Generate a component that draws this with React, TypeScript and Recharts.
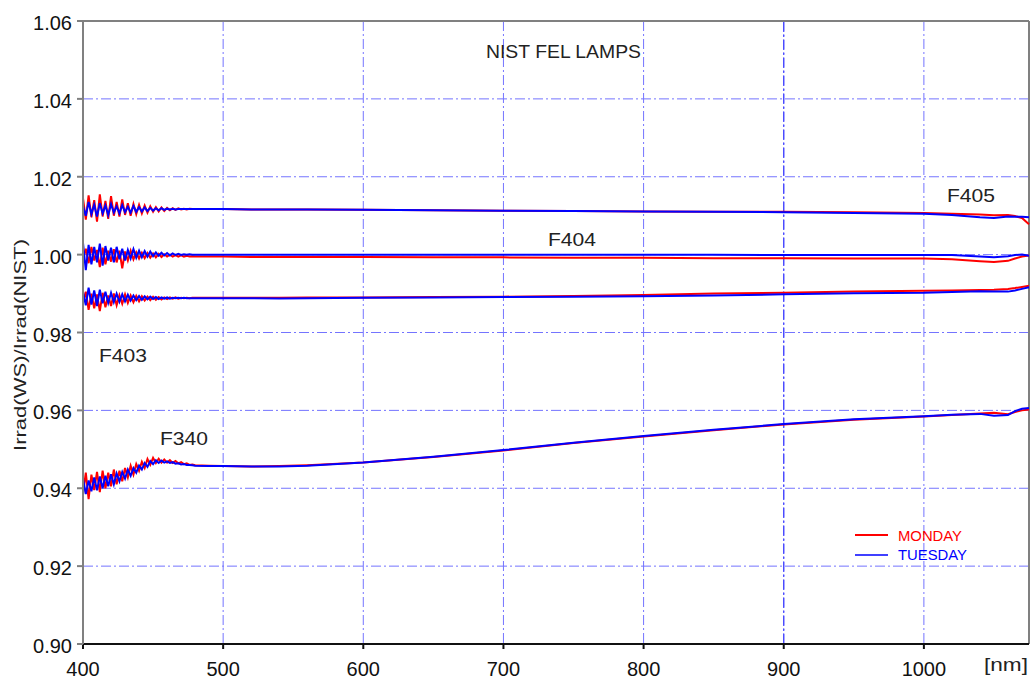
import { LineChart, Line, XAxis, YAxis, CartesianGrid, ReferenceLine } from "recharts";

const WAVELENGTH = [
  400, 402, 404, 406, 408, 410, 412, 414, 416, 418, 420, 422, 424, 426, 428, 430, 432, 434, 436, 438, 440,
  442, 444, 446, 448, 450, 452, 454, 456, 458, 460, 462, 464, 466, 468, 470, 472, 474, 476, 478, 480,
  490, 500, 520, 540, 560, 600, 650, 700, 750, 800, 850, 900, 950, 1000, 1020, 1040, 1050, 1060, 1065, 1070, 1075,
];

const F405_MON = [
  1.0145, 1.009, 1.0152, 1.0096, 1.014, 1.0085, 1.0155, 1.0098, 1.0138, 1.0092, 1.015, 1.01, 1.0135, 1.0098, 1.0142, 1.0102, 1.0132, 1.01, 1.013, 1.0104, 1.0128,
  1.0106, 1.0126, 1.0108, 1.0124, 1.011, 1.0122, 1.0111, 1.0121, 1.0112, 1.012, 1.0114, 1.0119, 1.0115, 1.0119, 1.0116, 1.0118, 1.0116, 1.0118, 1.0117, 1.0117,
  1.0117, 1.0117, 1.0116, 1.0116, 1.0116, 1.0115, 1.0114, 1.0113, 1.0112, 1.0111, 1.011, 1.011, 1.0109, 1.0107, 1.0105, 1.0103, 1.0101, 1.0102, 1.0099, 1.0094, 1.0078,
];
const F405_TUE = [
  1.0125, 1.01, 1.0135, 1.0104, 1.0128, 1.0098, 1.0132, 1.0106, 1.0126, 1.0102, 1.013, 1.0108, 1.0124, 1.0106, 1.0127, 1.0109, 1.0123, 1.0108, 1.0125, 1.011, 1.0122,
  1.0111, 1.0121, 1.0112, 1.012, 1.0113, 1.0119, 1.0114, 1.0119, 1.0115, 1.0118, 1.0116, 1.0118, 1.0116, 1.0117, 1.0117, 1.0117, 1.0117, 1.0117, 1.0117, 1.0117,
  1.0117, 1.0117, 1.0116, 1.0116, 1.0116, 1.0115, 1.0114, 1.0113, 1.0112, 1.0111, 1.011, 1.0109, 1.0107, 1.0105, 1.0102, 1.0096, 1.0094, 1.0098, 1.0097, 1.0097, 1.0096,
];
const F404_MON = [
  0.999, 1.0015, 0.9978, 1.002, 0.9985, 1.0012, 0.9968, 1.0018, 0.9975, 1.001, 0.9982, 1.0014, 0.998, 1.001, 0.9965, 1.0008, 0.9985, 1.001, 0.9988, 1.0006, 0.999,
  1.0005, 0.9991, 1.0004, 0.9992, 1.0003, 0.9993, 1.0002, 0.9994, 1.0001, 0.9995, 1.0, 0.9995, 0.9999, 0.9995, 0.9998, 0.9995, 0.9997, 0.9995, 0.9996, 0.9995,
  0.9995, 0.9995, 0.9994, 0.9994, 0.9994, 0.9994, 0.9993, 0.9993, 0.9992, 0.9992, 0.9991, 0.9991, 0.999, 0.999, 0.9988, 0.9983, 0.9981, 0.9984, 0.999, 0.9995, 0.9998,
];
const F404_TUE = [
  1.003, 0.996, 1.0025, 0.9975, 1.002, 0.998, 1.0028, 0.9972, 1.0022, 0.9985, 1.0018, 0.998, 1.002, 0.9988, 1.0015, 0.9985, 1.0012, 0.999, 1.0014, 0.9992, 1.001,
  0.9993, 1.0009, 0.9995, 1.0008, 0.9996, 1.0006, 0.9997, 1.0005, 0.9998, 1.0004, 0.9998, 1.0003, 0.9999, 1.0002, 0.9999, 1.0001, 1.0, 1.0001, 1.0, 1.0,
  1.0, 1.0, 1.0, 1.0, 1.0, 1.0, 1.0, 1.0, 1.0, 1.0, 1.0, 0.9999, 0.9999, 0.9999, 0.9999, 0.9995, 0.9993, 0.9996, 0.9999, 1.0, 0.9997,
];
const F403_MON = [
  0.9875, 0.9905, 0.9858, 0.99, 0.9862, 0.9898, 0.9855, 0.9902, 0.9865, 0.9895, 0.9868, 0.99, 0.987, 0.9896, 0.9874, 0.9898, 0.9876, 0.9895, 0.9878, 0.9894, 0.988,
  0.9893, 0.9882, 0.9892, 0.9883, 0.9892, 0.9884, 0.9891, 0.9885, 0.989, 0.9886, 0.989, 0.9887, 0.989, 0.9887, 0.9889, 0.9888, 0.9889, 0.9888, 0.9889, 0.9889,
  0.9889, 0.9889, 0.9889, 0.9889, 0.989, 0.989, 0.9891, 0.9892, 0.9894, 0.9896, 0.99, 0.9902, 0.9905, 0.9907, 0.9908, 0.9909, 0.991, 0.9912, 0.9914, 0.9917, 0.992,
];
const F403_TUE = [
  0.9905, 0.987, 0.9915, 0.9872, 0.9908, 0.9868, 0.991, 0.9875, 0.9905, 0.9876, 0.9902, 0.9878, 0.99, 0.9879, 0.9898, 0.988, 0.9897, 0.9882, 0.9895, 0.9883, 0.9894,
  0.9884, 0.9893, 0.9885, 0.9892, 0.9886, 0.9891, 0.9886, 0.989, 0.9887, 0.989, 0.9887, 0.9889, 0.9888, 0.9889, 0.9888, 0.9889, 0.9888, 0.9888, 0.9888, 0.9888,
  0.9888, 0.9888, 0.9888, 0.9887, 0.9888, 0.9889, 0.989, 0.9891, 0.9892, 0.9893, 0.9895, 0.9898, 0.9901, 0.9902, 0.9904, 0.9906, 0.9905, 0.9905, 0.9908, 0.9912, 0.9916,
];
const F340_MON = [
  0.9385, 0.944, 0.9372, 0.9435, 0.9395, 0.9442, 0.939, 0.9445, 0.94, 0.944, 0.9405, 0.9448, 0.941, 0.9445, 0.9418, 0.9452, 0.9428, 0.9458, 0.9435, 0.9462, 0.9445,
  0.9468, 0.9452, 0.9475, 0.946, 0.9478, 0.9465, 0.9476, 0.9466, 0.9474, 0.9466, 0.9472, 0.9465, 0.947, 0.9464, 0.9467, 0.9462, 0.9464, 0.946, 0.9461, 0.9459,
  0.9458, 0.9457, 0.9456, 0.9457, 0.9459, 0.9466, 0.948, 0.9497, 0.9516, 0.9533, 0.9549, 0.9564, 0.9576, 0.9584, 0.9588, 0.9592, 0.9594, 0.959, 0.9596, 0.96, 0.9602,
];
const F340_TUE = [
  0.9425, 0.9385, 0.942, 0.9392, 0.9428, 0.9395, 0.943, 0.94, 0.9432, 0.9405, 0.9436, 0.941, 0.9438, 0.9418, 0.9442, 0.9425, 0.9448, 0.9432, 0.9452, 0.944, 0.9458,
  0.9448, 0.9465, 0.9455, 0.947, 0.9462, 0.9472, 0.9465, 0.9471, 0.9466, 0.9469, 0.9465, 0.9467, 0.9463, 0.9464, 0.9461, 0.9462, 0.946, 0.946, 0.9459, 0.9458,
  0.9457, 0.9457, 0.9456, 0.9456, 0.9458, 0.9466, 0.9481, 0.9498, 0.9517, 0.9534, 0.955, 0.9565, 0.9577, 0.9585, 0.9589, 0.9591, 0.9586, 0.9588, 0.9598, 0.9604, 0.9606,
];

const X_TICKS = [400, 500, 600, 700, 800, 900, 1000];
const Y_TICKS = [0.9, 0.92, 0.94, 0.96, 0.98, 1.0, 1.02, 1.04, 1.06];

const RED = "#ff0000";
const BLUE = "#0000ff";
const GRID = "#7474ff";
const FONT = "'Liberation Sans', Arial, sans-serif";

const data = WAVELENGTH.map((wl, i) => ({
  wl,
  f405Mon: F405_MON[i],
  f405Tue: F405_TUE[i],
  f404Mon: F404_MON[i],
  f404Tue: F404_TUE[i],
  f403Mon: F403_MON[i],
  f403Tue: F403_TUE[i],
  f340Mon: F340_MON[i],
  f340Tue: F340_TUE[i],
}));

const MON_KEYS = ["f405Mon", "f404Mon", "f403Mon", "f340Mon"];
const TUE_KEYS = ["f405Tue", "f404Tue", "f403Tue", "f340Tue"];

export default function App() {
  return (
    <div style={{ position: "absolute", left: 0, top: 0, width: 1031, height: 681, background: "#fff" }}>
      <LineChart width={1031} height={681} data={data} margin={{ top: 21, right: 2, bottom: 0, left: 0 }}>
        <CartesianGrid stroke={GRID} strokeDasharray="10 3 2 3" strokeWidth={1} />
        <XAxis
          dataKey="wl"
          type="number"
          domain={[400, 1075]}
          ticks={X_TICKS}
          height={37}
          stroke="#111"
          strokeWidth={2}
          tickSize={5}
          tickMargin={13}
          tick={{ fontSize: 20, fill: "#111", fontFamily: FONT }}
        />
        <YAxis
          type="number"
          domain={[0.9, 1.06]}
          ticks={Y_TICKS}
          width={83}
          stroke="#808080"
          strokeWidth={2}
          tickSize={6}
          tickMargin={5}
          tickFormatter={(v: number) => v.toFixed(2)}
          tick={{ fontSize: 20, fill: "#111", fontFamily: FONT, dy: 2 }}
        />
        <ReferenceLine x={900} stroke="#4040ff" strokeWidth={1.2} strokeDasharray="10 3 2 3" />
        <ReferenceLine y={1.06} stroke="#808080" strokeWidth={2} />
        <ReferenceLine x={1075} stroke="#808080" strokeWidth={2} />
        {MON_KEYS.map((k) => (
          <Line key={k} dataKey={k} type="linear" stroke={RED} strokeWidth={2} dot={false} isAnimationActive={false} />
        ))}
        {TUE_KEYS.map((k) => (
          <Line key={k} dataKey={k} type="linear" stroke={BLUE} strokeWidth={2} dot={false} isAnimationActive={false} />
        ))}
      </LineChart>
      <svg
        width={1031}
        height={681}
        style={{ position: "absolute", left: 0, top: 0, pointerEvents: "none" }}
        fontFamily={FONT}
      >
        <text x={486} y={58} fontSize={19} fill="#222" textLength={155} lengthAdjust="spacingAndGlyphs">
          NIST FEL LAMPS
        </text>
        <text x={947} y={202} fontSize={19} fill="#222" textLength={48} lengthAdjust="spacingAndGlyphs">F405</text>
        <text x={548} y={246} fontSize={19} fill="#222" textLength={48} lengthAdjust="spacingAndGlyphs">F404</text>
        <text x={99} y={362} fontSize={19} fill="#222" textLength={48} lengthAdjust="spacingAndGlyphs">F403</text>
        <text x={160} y={445} fontSize={19} fill="#222" textLength={48} lengthAdjust="spacingAndGlyphs">F340</text>
        <text x={984} y={671} fontSize={19} fill="#222" textLength={44} lengthAdjust="spacingAndGlyphs">[nm]</text>
        <text
          transform="translate(26,345) rotate(-90)"
          textAnchor="middle"
          fontSize={17}
          fill="#222"
          textLength={212}
          lengthAdjust="spacingAndGlyphs"
        >
          Irrad(WS)/Irrad(NIST)
        </text>
        <line x1={855} x2={888} y1={535} y2={535} stroke={RED} strokeWidth={2} />
        <text x={898} y={541} fontSize={14} fill={RED} textLength={64} lengthAdjust="spacingAndGlyphs">MONDAY</text>
        <line x1={855} x2={888} y1={555} y2={555} stroke={BLUE} strokeWidth={1.5} />
        <text x={898} y={560} fontSize={14} fill={BLUE} textLength={69} lengthAdjust="spacingAndGlyphs">TUESDAY</text>
      </svg>
    </div>
  );
}
